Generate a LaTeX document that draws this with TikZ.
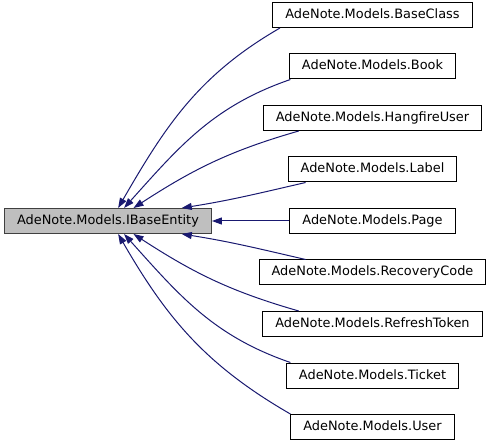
\documentclass[tikz,border=0pt]{standalone}
\usepackage{fontspec}
\setmainfont{DejaVu Sans}
\usepackage{tikz}
\usetikzlibrary{arrows.meta,positioning}
\definecolor{EdgeBlue}{HTML}{191970}
\definecolor{BaseFill}{HTML}{BFBFBF}
\definecolor{BaseLine}{HTML}{404040}
\tikzset{
  classbox/.style={draw=black,fill=white,line width=1pt,minimum height=25pt,
              inner xsep=12.5pt,inner ysep=2pt,text height=9.5pt,text depth=2.5pt,
              font=\fontsize{12.9}{15}\selectfont},
  basebox/.style={classbox,draw=BaseLine,fill=BaseFill},
  inherit/.style={-{Triangle[length=10pt,width=7pt]},line width=1pt,draw=EdgeBlue}
}
\begin{document}
\begin{tikzpicture}[x=1pt,y=1pt,node distance=25.5pt]
  \useasboundingbox (0,0) rectangle (492,-443);
  \node[basebox] (ibase) at (108,-221) {AdeNote.Models.IBaseEntity};
  \node[classbox] (page) at (372.5,-221) {AdeNote.Models.Page};
  \node[classbox,above=of page] (label) {AdeNote.Models.Label};
  \node[classbox,above=of label] (hangfire) {AdeNote.Models.HangfireUser};
  \node[classbox,above=of hangfire] (book) {AdeNote.Models.Book};
  \node[classbox,above=of book] (baseclass) {AdeNote.Models.BaseClass};
  \node[classbox,below=of page] (recovery) {AdeNote.Models.RecoveryCode};
  \node[classbox,below=of recovery] (refresh) {AdeNote.Models.RefreshToken};
  \node[classbox,below=of refresh] (ticket) {AdeNote.Models.Ticket};
  \node[classbox,below=of ticket] (user) {AdeNote.Models.User};

  \draw[inherit] (baseclass.188) to[out=210,in=60] (ibase.52);
  \draw[inherit] (book.189) to[out=199,in=48] (ibase.39);
  \draw[inherit] (hangfire.190) to[out=196,in=33] (ibase.27);
  \draw[inherit] (label.191) to[out=193,in=9] (ibase.10);
  \draw[inherit] (page) -- (ibase);
  \draw[inherit] (recovery.169) to[out=167,in=-9] (ibase.-10);
  \draw[inherit] (refresh.170) to[out=164,in=-33] (ibase.-27);
  \draw[inherit] (ticket.171) to[out=161,in=-48] (ibase.-39);
  \draw[inherit] (user.171) to[out=150,in=-60] (ibase.-52);
\end{tikzpicture}
\end{document}
